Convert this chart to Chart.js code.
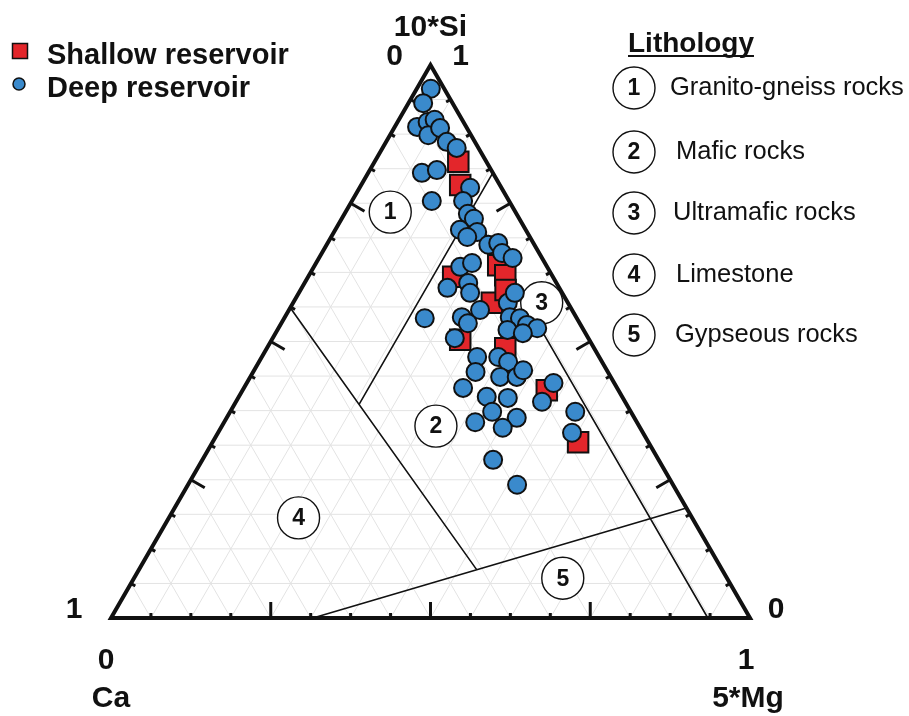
<!DOCTYPE html>
<html>
<head>
<meta charset="utf-8">
<script src="https://cdn.jsdelivr.net/npm/chart.js@4.4.0/dist/chart.umd.min.js"></script>
<style>
  html, body { margin: 0; padding: 0; background: #fff; }
  canvas { display: block; }
</style>
</head>
<body>
<canvas id="chart" width="909" height="716"></canvas>
<script>
// ternary fractions: 10*Si (apex) and 5*Mg (bottom right), Ca is the rest
var deepSi = [0.957, 0.931, 0.888, 0.897, 0.901, 0.873, 0.886, 0.861, 0.850, 0.805,
              0.810, 0.778, 0.754, 0.754, 0.731, 0.722, 0.702, 0.698, 0.689, 0.675,
              0.678, 0.660, 0.651, 0.635, 0.642, 0.597, 0.606, 0.588, 0.557, 0.570,
              0.588, 0.544, 0.542, 0.530, 0.524, 0.521, 0.515, 0.544, 0.533, 0.506,
              0.542, 0.472, 0.472, 0.463, 0.445, 0.436, 0.436, 0.448, 0.416, 0.400,
              0.398, 0.425, 0.391, 0.373, 0.354, 0.362, 0.344, 0.373, 0.335, 0.286,
              0.241];
var deepMg = [0.022, 0.023, 0.035, 0.047, 0.056, 0.060, 0.072, 0.095, 0.116, 0.084,
              0.105, 0.173, 0.125, 0.174, 0.193, 0.207, 0.195, 0.224, 0.213, 0.253,
              0.267, 0.282, 0.303, 0.229, 0.244, 0.228, 0.256, 0.268, 0.299, 0.336,
              0.338, 0.352, 0.369, 0.386, 0.405, 0.360, 0.387, 0.277, 0.292, 0.285,
              0.220, 0.337, 0.370, 0.390, 0.348, 0.391, 0.417, 0.421, 0.343, 0.388,
              0.422, 0.480, 0.479, 0.410, 0.393, 0.454, 0.441, 0.540, 0.554, 0.455,
              0.515];
var shallowSi = [0.825, 0.783, 0.638, 0.620, 0.617, 0.570, 0.593, 0.503, 0.488, 0.412, 0.318];
var shallowMg = [0.131, 0.155, 0.287, 0.307, 0.227, 0.311, 0.321, 0.295, 0.373, 0.476, 0.572];

// lithology field boundaries, [si, mg] end points
var limestoneLine = [[0.561, 0.000], [0.087, 0.529]];
var gypseousLine = [[0.000, 0.316], [0.199, 0.801]];
var graniteLine = [[0.386, 0.195], [0.805, 0.195]];
var ultramaficLine = [[0.739, 0.195], [0.000, 0.934]];

var fieldLabels = ['1', '2', '3', '4', '5'];
var fieldSi = [0.734, 0.347, 0.570, 0.181, 0.072];
var fieldMg = [0.070, 0.335, 0.389, 0.203, 0.671];

var lithology = ['Granito-gneiss rocks', 'Mafic rocks', 'Ultramafic rocks', 'Limestone', 'Gypseous rocks'];

var gridSteps = 16;

function toXY(si, mg) {
  return { x: mg + si / 2, y: si };
}
function points(si, mg) {
  return si.map(function (s, i) { return toXY(s, mg[i]); });
}

var FONT = '"Liberation Sans", Arial, sans-serif';

var ternaryDecor = {
  id: 'ternaryDecor',
  beforeDatasetsDraw: function (chart) {
    var ctx = chart.ctx, sx = chart.scales.x, sy = chart.scales.y;
    function px(si, mg) {
      var p = toXY(si, mg);
      return [sx.getPixelForValue(p.x), sy.getPixelForValue(p.y)];
    }
    function seg(a, b) {
      var p = px(a[0], a[1]), q = px(b[0], b[1]);
      ctx.moveTo(p[0], p[1]);
      ctx.lineTo(q[0], q[1]);
    }
    ctx.save();
    // light triangular grid
    ctx.strokeStyle = '#e3e3e3';
    ctx.lineWidth = 1;
    ctx.beginPath();
    for (var k = 1; k < gridSteps; k++) {
      var f = k / gridSteps;
      seg([f, 0], [f, 1 - f]);
      seg([0, f], [1 - f, f]);
      seg([0, 1 - f], [1 - f, 0]);
    }
    ctx.stroke();

    // field boundaries
    ctx.strokeStyle = '#111';
    ctx.lineWidth = 1.6;
    ctx.beginPath();
    [limestoneLine, gypseousLine, graniteLine, ultramaficLine].forEach(function (l) {
      seg(l[0], l[1]);
    });
    ctx.stroke();

    // ticks, perpendicular and pointing inward
    var apex = px(1, 0), bl = px(0, 0), br = px(0, 1);
    var cx = (apex[0] + bl[0] + br[0]) / 3, cy = (apex[1] + bl[1] + br[1]) / 3;
    ctx.lineWidth = 3;
    ctx.lineCap = 'butt';
    [[apex, bl], [bl, br], [br, apex]].forEach(function (e) {
      var a = e[0], b = e[1];
      var dx = b[0] - a[0], dy = b[1] - a[1], len = Math.hypot(dx, dy);
      var nx = -dy / len, ny = dx / len;
      var mx = (a[0] + b[0]) / 2, my = (a[1] + b[1]) / 2;
      if ((cx - mx) * nx + (cy - my) * ny < 0) { nx = -nx; ny = -ny; }
      ctx.beginPath();
      for (var k = 1; k < gridSteps; k++) {
        var t = k / gridSteps;
        var x0 = a[0] + dx * t, y0 = a[1] + dy * t;
        var l = (k % 4 === 0) ? 16 : 5;
        ctx.moveTo(x0, y0);
        ctx.lineTo(x0 + nx * l, y0 + ny * l);
      }
      ctx.stroke();
    });

    // outer triangle
    ctx.lineWidth = 4;
    ctx.lineJoin = 'miter';
    ctx.beginPath();
    ctx.moveTo(apex[0], apex[1]);
    ctx.lineTo(br[0], br[1]);
    ctx.lineTo(bl[0], bl[1]);
    ctx.closePath();
    ctx.stroke();

    // circled field numbers
    ctx.font = 'bold 23px ' + FONT;
    ctx.textAlign = 'center';
    ctx.textBaseline = 'middle';
    fieldLabels.forEach(function (t, i) {
      var p = px(fieldSi[i], fieldMg[i]);
      ctx.beginPath();
      ctx.arc(p[0], p[1], 21, 0, Math.PI * 2);
      ctx.fillStyle = '#fff';
      ctx.fill();
      ctx.lineWidth = 1.4;
      ctx.strokeStyle = '#111';
      ctx.stroke();
      ctx.fillStyle = '#111';
      ctx.fillText(t, p[0], p[1] + 1);
    });
    ctx.restore();
  },
  afterDraw: function (chart) {
    var ctx = chart.ctx, sx = chart.scales.x, sy = chart.scales.y;
    var apexX = sx.getPixelForValue(0.5), apexY = sy.getPixelForValue(1);
    var blX = sx.getPixelForValue(0), brX = sx.getPixelForValue(1), baseY = sy.getPixelForValue(0);
    ctx.save();
    ctx.fillStyle = '#111';
    ctx.textAlign = 'center';
    ctx.textBaseline = 'alphabetic';
    ctx.font = 'bold 30px ' + FONT;
    ctx.fillText('10*Si', apexX, apexY - 29);
    ctx.fillText('0', apexX - 36, apexY);
    ctx.fillText('1', apexX + 30, apexY);
    ctx.fillText('1', blX - 37, baseY);
    ctx.fillText('0', blX - 5, baseY + 51);
    ctx.fillText('Ca', blX, baseY + 89);
    ctx.fillText('0', brX + 26, baseY);
    ctx.fillText('1', brX - 4, baseY + 51);
    ctx.fillText('5*Mg', brX - 2, baseY + 89);

    // series legend
    ctx.textAlign = 'left';
    ctx.font = 'bold 29px ' + FONT;
    ctx.fillText('Shallow reservoir', 47, 64);
    ctx.fillText('Deep reservoir', 47, 97);
    ctx.lineWidth = 1.5;
    ctx.strokeStyle = '#111';
    ctx.fillStyle = '#e3262b';
    ctx.fillRect(12.5, 43.5, 15, 15);
    ctx.strokeRect(12.5, 43.5, 15, 15);
    ctx.beginPath();
    ctx.arc(19, 84, 6, 0, Math.PI * 2);
    ctx.fillStyle = '#3a8acc';
    ctx.fill();
    ctx.stroke();

    // lithology legend
    ctx.fillStyle = '#111';
    ctx.font = 'bold 28px ' + FONT;
    ctx.fillText('Lithology', 628, 52);
    var w = ctx.measureText('Lithology').width;
    ctx.fillRect(628, 55, w, 2);
    var rows = [88, 152, 213, 275, 335];
    var textX = [670, 676, 673, 676, 675];
    lithology.forEach(function (name, i) {
      ctx.beginPath();
      ctx.arc(634, rows[i], 21, 0, Math.PI * 2);
      ctx.lineWidth = 1.4;
      ctx.stroke();
      ctx.textAlign = 'center';
      ctx.textBaseline = 'middle';
      ctx.font = 'bold 23px ' + FONT;
      ctx.fillText(fieldLabels[i], 634, rows[i] + 1);
      ctx.textAlign = 'left';
      ctx.font = '25.5px ' + FONT;
      ctx.fillText(name, textX[i], rows[i]);
    });
    ctx.restore();
  }
};

var ctx = document.getElementById('chart');
var chart = new Chart(ctx, {
  type: 'scatter',
  data: {
    datasets: [
      {
        label: 'Deep reservoir',
        data: points(deepSi, deepMg),
        pointStyle: 'circle',
        pointRadius: 9,
        pointHoverRadius: 9,
        borderWidth: 2,
        borderColor: '#111',
        backgroundColor: '#3a8acc'
      },
      {
        label: 'Shallow reservoir',
        data: points(shallowSi, shallowMg),
        pointStyle: 'rect',
        pointRadius: 14.5,
        pointHoverRadius: 14.5,
        borderWidth: 2,
        borderColor: '#111',
        backgroundColor: '#e3262b'
      }
    ]
  },
  options: {
    responsive: false,
    animation: false,
    events: [],
    layout: { padding: 0, autoPadding: false },
    plugins: {
      legend: { display: false },
      tooltip: { enabled: false }
    },
    scales: {
      x: { type: 'linear', display: false, min: -111 / 639, max: 798 / 639 },
      y: { type: 'linear', display: false, min: -98 / 553, max: 1 + 65 / 553 }
    }
  },
  plugins: [ternaryDecor]
});
</script>
</body>
</html>
